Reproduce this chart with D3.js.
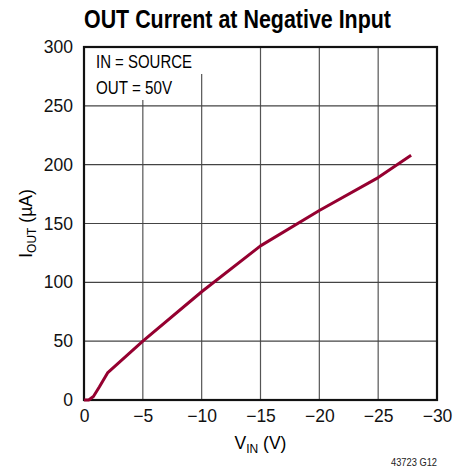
<!DOCTYPE html>
<html>
<head>
<meta charset="utf-8">
<script src="https://cdn.jsdelivr.net/npm/d3@7"></script>
<style>
  body { margin: 0; background: #fff; }
  svg { display: block; font-family: "Liberation Sans", Arial, sans-serif; }
</style>
</head>
<body>
<svg width="464" height="472"></svg>
<script>
// data
var vin = [0, -0.4, -0.8, -1.3, -2, -5, -10, -15, -20, -25, -27.8];
var iout = [0, 0, 3, 11, 23, 50, 92, 131, 161, 189, 208];
var xTicks = [0, -5, -10, -15, -20, -25, -30];
var yTicks = [0, 50, 100, 150, 200, 250, 300];
var notes = ["IN = SOURCE", "OUT = 50V"];

var svg = d3.select("svg");
var margin = { top: 47, right: 27, bottom: 72, left: 84 },
    width = 464 - margin.left - margin.right,
    height = 472 - margin.top - margin.bottom;
var g = svg.append("g").attr("transform", "translate(" + margin.left + "," + margin.top + ")");

var x = d3.scaleLinear().domain([0, -30]).range([0, width]);
var y = d3.scaleLinear().domain([0, 300]).range([height, 0]);

// title (condensed face is not available, so squeeze it)
svg.append("text")
    .attr("x", 237.5).attr("y", 28)
    .attr("text-anchor", "middle")
    .attr("font-size", 26).attr("font-weight", "bold")
    .attr("textLength", 307).attr("lengthAdjust", "spacingAndGlyphs")
    .text("OUT Current at Negative Input");

// grid
g.append("g")
    .selectAll("line")
    .data(xTicks.slice(1, -1))
    .enter().append("line")
    .attr("x1", function (d) { return x(d); })
    .attr("x2", function (d) { return x(d); })
    .attr("y1", 0).attr("y2", height)
    .attr("stroke", "#555").attr("stroke-width", 1.2);

g.append("g")
    .selectAll("line")
    .data(yTicks.slice(1, -1))
    .enter().append("line")
    .attr("x1", 0).attr("x2", width)
    .attr("y1", function (d) { return y(d); })
    .attr("y2", function (d) { return y(d); })
    .attr("stroke", "#444").attr("stroke-width", 1.2);

// note boxes over the grid
var boxW = [140, 90];
var noteW = [96, 76];
notes.forEach(function (t, i) {
    g.append("rect")
        .attr("x", 1).attr("y", 1 + i * 26)
        .attr("width", boxW[i]).attr("height", 26)
        .attr("fill", "#fff");
    g.append("text")
        .attr("x", 12).attr("y", 21 + i * 26)
        .attr("font-size", 18)
        .attr("textLength", noteW[i]).attr("lengthAdjust", "spacingAndGlyphs")
        .text(t);
});

// axes
var xAxis = g.append("g")
    .attr("transform", "translate(0," + height + ")")
    .call(d3.axisBottom(x).tickValues(xTicks).tickSize(0).tickPadding(10)
        .tickFormat(function (d) { return d === 0 ? "0" : "\u2212" + Math.abs(d); }));
xAxis.select(".domain").remove();
xAxis.selectAll("text").attr("font-size", 17.5).attr("fill", "#111").attr("font-family", null);

var yAxis = g.append("g")
    .call(d3.axisLeft(y).tickValues(yTicks).tickSize(0).tickPadding(11));
yAxis.select(".domain").remove();
yAxis.selectAll("text").attr("font-size", 17.5).attr("fill", "#111").attr("font-family", null);

// frame
g.append("rect")
    .attr("width", width).attr("height", height)
    .attr("fill", "none").attr("stroke", "#111").attr("stroke-width", 2.2);

// curve
var pts = vin.map(function (v, i) { return [v, iout[i]]; });
var line = d3.line()
    .x(function (d) { return x(d[0]); })
    .y(function (d) { return y(d[1]); });
g.append("path")
    .datum(pts)
    .attr("fill", "none")
    .attr("stroke", "#950030")
    .attr("stroke-width", 3)
    .attr("stroke-linejoin", "round")
    .attr("d", line);

// axis labels
var xl = svg.append("text")
    .attr("x", margin.left + width / 2).attr("y", 449)
    .attr("text-anchor", "middle")
    .attr("font-size", 17.5);
xl.append("tspan").text("V");
xl.append("tspan").attr("font-size", 12).attr("dy", 4).text("IN");
xl.append("tspan").attr("dy", -4).text(" (V)");

var yl = svg.append("text")
    .attr("transform", "translate(32," + (margin.top + height / 2) + ") rotate(-90)")
    .attr("text-anchor", "middle")
    .attr("font-size", 17.5);
yl.append("tspan").text("I");
yl.append("tspan").attr("font-size", 12).attr("dy", 4).text("OUT");
yl.append("tspan").attr("dy", -4).text(" (\u00b5A)");

// figure code
svg.append("text")
    .attr("x", 437).attr("y", 466)
    .attr("text-anchor", "end")
    .attr("font-size", 10.5)
    .attr("fill", "#222")
    .attr("textLength", 46).attr("lengthAdjust", "spacingAndGlyphs")
    .text("43723 G12");
</script>
</body>
</html>
